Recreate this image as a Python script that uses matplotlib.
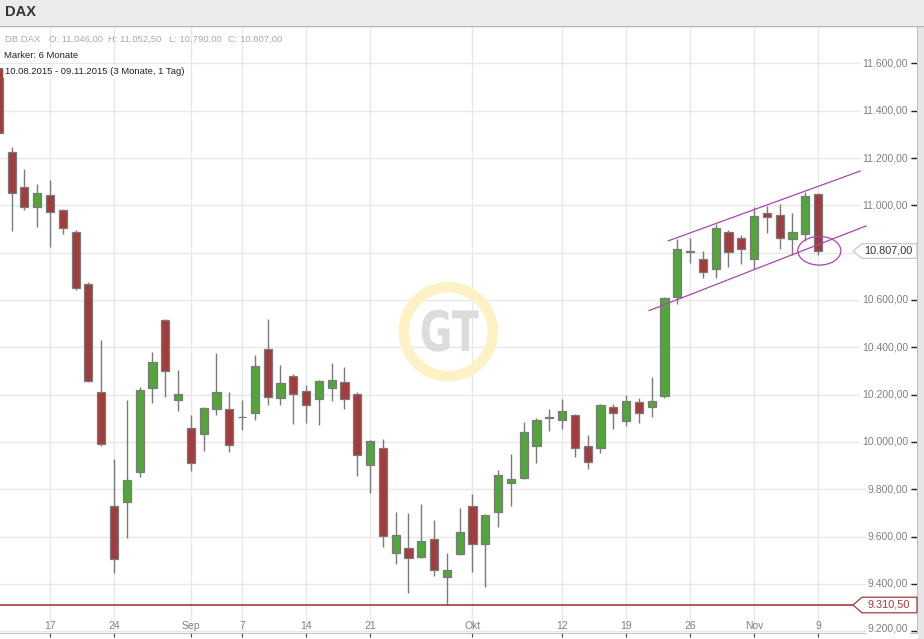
import matplotlib
matplotlib.use("Agg")
import matplotlib.pyplot as plt
import matplotlib.transforms as mtransforms
from matplotlib.patches import Rectangle, Polygon, Circle, Ellipse, PathPatch
from matplotlib.textpath import TextPath
from matplotlib.font_manager import FontProperties
import pandas as pd

plt.rcParams['font.family'] = ['Liberation Sans', 'DejaVu Sans']

# daily candles, DB DAX 11.08.2015 - 09.11.2015
dates = pd.bdate_range("2015-08-11", "2015-11-09")
opens = [11580, 11227, 11077, 10995, 11043, 10981, 10889, 10666, 10212, 9729,
         9746, 9871, 10227, 10517, 10178, 10060, 10033, 10140, 10140, 10105,
         10123, 10394, 10187, 10280, 10216, 10182, 10229, 10254, 10204, 9902,
         9973, 9529, 9553, 9512, 9589, 9427, 9525, 9729, 9568, 9703,
         9825, 9847, 9983, 10102, 10093, 10115, 9983, 9973, 10148, 10089,
         10170, 10148, 10195, 10613, 10802, 10772, 10729, 10886, 10861, 10772,
         10966, 10958, 10859, 10878, 11046]
highs = [11585, 11248, 11155, 11091, 11108, 10985, 10896, 10676, 10430, 9929,
         10178, 10233, 10379, 10520, 10302, 10112, 10148, 10375, 10213, 10178,
         10366, 10519, 10324, 10285, 10239, 10260, 10332, 10315, 10213, 10010,
         10014, 9703, 9699, 9737, 9669, 9529, 9720, 9781, 9695, 9881,
         9950, 10085, 10101, 10140, 10182, 10118, 10030, 10160, 10161, 10199,
         10187, 10273, 10612, 10857, 10861, 10807, 10923, 10895, 10874, 10991,
         10998, 11005, 10966, 11055, 11052.5]
lows = [11266, 10892, 10981, 10910, 10825, 10880, 10642, 10255, 9981, 9447,
        9594, 9850, 10164, 10189, 10130, 9876, 9960, 10113, 9956, 10049,
        10092, 10155, 10155, 10075, 10079, 10070, 10174, 10140, 9856, 9782,
        9555, 9483, 9360, 9510, 9432, 9310.5, 9521, 9448, 9388, 9642,
        9727, 9845, 9909, 10045, 10053, 9935, 9884, 9952, 10055, 10068,
        10079, 10106, 10187, 10585, 10757, 10691, 10694, 10740, 10750, 10732,
        10885, 10817, 10789, 10850, 10790]
closes = [11307, 11052, 10995, 11052, 10971, 10905, 10649, 10259, 9992, 9504,
          9839, 10220, 10339, 10301, 10204, 9910, 10144, 10212, 9987, 10107,
          10322, 10191, 10250, 10204, 10157, 10258, 10263, 10182, 9945, 10004,
          9601, 9606, 9508, 9580, 9459, 9457, 9618, 9568, 9690, 9860,
          9843, 10042, 10093, 10106, 10131, 9975, 9917, 10157, 10123, 10174,
          10123, 10174, 10609, 10814, 10806, 10718, 10903, 10803, 10814, 10955,
          10949, 10861, 10888, 11040, 10807]

tick_dates = ["2015-08-17", "2015-08-24", "2015-09-01", "2015-09-07", "2015-09-14",
              "2015-09-21", "2015-10-01", "2015-10-12", "2015-10-19", "2015-10-26",
              "2015-11-02", "2015-11-09"]
tick_labels = ["17", "24", "Sep", "7", "14", "21", "Okt", "12", "19", "26", "Nov", "9"]
price_levels = [9200, 9400, 9600, 9800, 10000, 10200, 10400, 10600, 10800,
                11000, 11200, 11400, 11600]
last_price = 10807.0
period_low = 9310.5

# trend channel drawn on the chart (trading day index, price)
upper_line = ([52.3, 67.3], [10850, 11145])
lower_line = ([50.8, 67.75], [10555, 10913])

RED = '#a33c3c'
GREEN = '#52a53a'
EDGE = '#7a7a7a'
PURPLE = '#aa46b4'
GRID = '#e8e8e8'


def de_fmt(v):
    s = f"{v:,.2f}"
    return s.replace(",", "X").replace(".", ",").replace("X", ".")


W, H = 924, 639
fig = plt.figure(figsize=(W / 100, H / 100), dpi=100)
fig.patch.set_facecolor('white')
ax = fig.add_axes([0, (H - 633.4) / H, 917 / W, (633.4 - 27) / H])
ax.set_xlim(0.094, 71.73)
ax.set_ylim(9190.4, 11753.9)

# header bar and right strip
fig.add_artist(Rectangle((0, (H - 25) / H), 1, 25 / H, transform=fig.transFigure,
                         facecolor='#ebebeb', edgecolor='none'))
fig.add_artist(plt.Line2D([0, 1], [(H - 25.5) / H] * 2, transform=fig.transFigure,
                          color='#b4b4b4', lw=1))
fig.add_artist(Rectangle((917.5 / W, 0), 6.5 / W, (H - 26) / H, transform=fig.transFigure,
                         facecolor='#e6e6e6', edgecolor='none'))
fig.text(5 / W, (H - 12) / H, "DAX", fontsize=10.5, fontweight='bold', color='#333333',
         va='center', ha='left')

# grid
tick_idx = [dates.get_loc(pd.Timestamp(d)) for d in tick_dates]
for p in price_levels:
    ax.axhline(p, color=GRID, lw=1, zorder=0)
for i in tick_idx:
    ax.axvline(i, color=GRID, lw=1, zorder=0)

# watermark logo
ident = mtransforms.IdentityTransform()
fig.add_artist(Circle((448.3, H - 331.7), 44.5, transform=ident, fill=False,
                      edgecolor='#fdf2c6', lw=7.6, zorder=0.5))
tp = TextPath((0, 0), "GT", size=1, prop=FontProperties(family='DejaVu Sans', weight='bold'))
ext = tp.get_extents()
tr = (mtransforms.Affine2D().translate(-ext.x0, -ext.y0)
      .scale(57 / ext.width, 42 / ext.height).translate(421.7, H - 351.7))
fig.add_artist(PathPatch(tr.transform_path(tp), transform=ident, facecolor='#dcdcdc',
                         edgecolor='none', zorder=0.6))

# candles
for i in range(len(dates)):
    o, h, l, c = opens[i], highs[i], lows[i], closes[i]
    col = GREEN if c >= o else RED
    ax.vlines(i, l, h, color=EDGE, lw=1, zorder=2)
    ax.bar(i, max(abs(c - o), 1.5), bottom=min(o, c), width=0.64, color=col,
           edgecolor=EDGE, lw=0.9, zorder=3)

# low marker line
ax.hlines(period_low, 0.094, (853 + 1.2) / 12.8, color=RED, lw=1.2, zorder=4)

# channel and circle
ax.plot(*upper_line, color=PURPLE, lw=0.9, zorder=5)
ax.plot(*lower_line, color=PURPLE, lw=0.9, zorder=5)
ax.add_patch(Ellipse((64.1, 10808), 3.36, 121, fill=False, edgecolor=PURPLE, lw=0.9, zorder=5))

# axes styling
for s in ['top', 'left']:
    ax.spines[s].set_visible(False)
ax.spines['bottom'].set_color('#c4c4c4')
ax.spines['right'].set_color('#bdbdbd')
ax.set_xticks(tick_idx)
ax.set_xticklabels([])
ax.tick_params(axis='x', direction='out', length=3, width=0.8, color='#444444')
ax.yaxis.tick_right()
ax.set_yticks([p for p in price_levels if p != 10800])
ax.set_yticklabels([])
ax.tick_params(axis='y', direction='in', length=4, width=1, color='#222222')

xt = mtransforms.blended_transform_factory(ax.transData, ax.transAxes)
for i, lab in zip(tick_idx, tick_labels):
    ax.text(i, 7.4 / 606.4, lab, transform=xt, ha='center', va='center',
            fontsize=7.5, color='#808080')

yt = mtransforms.blended_transform_factory(ax.transAxes, ax.transData)
for p in price_levels:
    if p == 10800:
        continue
    ypos = p + 11 if p == 9200 else p
    ax.text(908 / 917, ypos, de_fmt(p), transform=yt, ha='right', va='center', fontsize=7.5,
            color='#808080', zorder=6,
            bbox=dict(boxstyle='square,pad=0.15', facecolor='white', edgecolor='none'))

# info lines
info_y = H - 39
fig.text(5 / W, info_y / H, "DB DAX", fontsize=6.8, color='#aaaaaa', va='center')
for x0, s in [(49.3, "O: 11.046,00"), (108.3, "H: 11.052,50"),
              (169.3, "L: 10.790,00"), (227.7, "C: 10.807,00")]:
    fig.text(x0 / W, info_y / H, s, fontsize=6.8, color='#aaaaaa', va='center')
fig.text(4 / W, (H - 55) / H, "Marker: 6 Monate", fontsize=6.8, color='#222222', va='center',
         bbox=dict(boxstyle='square,pad=0.25', facecolor='white', edgecolor='none', alpha=0.75))
fig.text(5 / W, (H - 71) / H, "10.08.2015 - 09.11.2015 (3 Monate, 1 Tag)", fontsize=6.8,
         color='#222222', va='center',
         bbox=dict(boxstyle='square,pad=0.25', facecolor='white', edgecolor='none', alpha=0.75))


# price tags at the right
def price_tag(price, edge, tcol, half):
    yd = ax.transData.transform((0, price))[1]
    pts = [(853, yd), (862, yd + half), (917, yd + half), (917, yd - half), (862, yd - half)]
    fig.add_artist(Polygon(pts, closed=True, transform=ident, facecolor='white',
                           edgecolor=edge, lw=0.9, zorder=7))
    fig.text(888.5 / W, yd / H, de_fmt(price), fontsize=7.8, color=tcol, ha='center',
             va='center', zorder=8)


price_tag(last_price, '#c8c8c8', '#333333', 7.3)
price_tag(period_low, RED, '#b03535', 7.8)

fig.savefig("out.png", dpi=100)
